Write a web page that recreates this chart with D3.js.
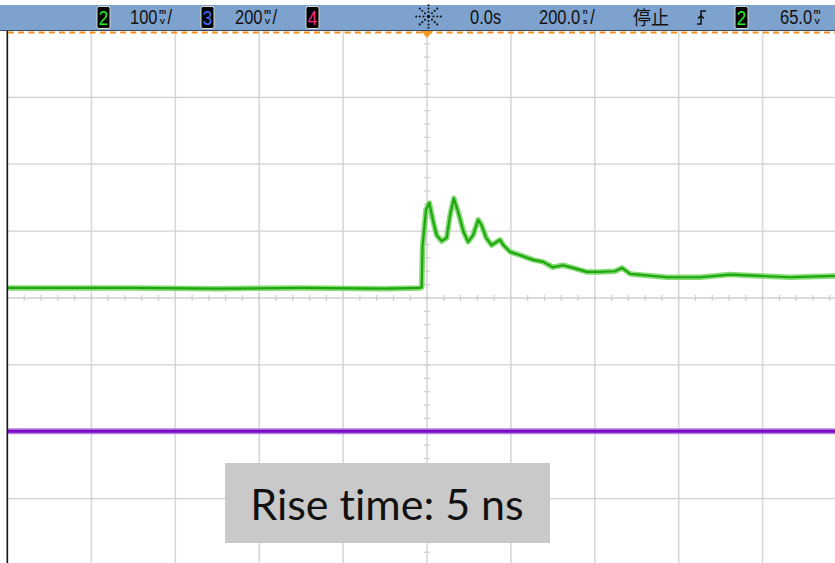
<!DOCTYPE html>
<html><head><meta charset="utf-8">
<script src="https://cdn.jsdelivr.net/npm/d3@7"></script>
<style>html,body{margin:0;padding:0;background:#fff;}svg{display:block;}</style>
</head><body>
<svg id="c" width="835" height="563"></svg>
<script>
// time in ns (200 ns/div), channel values in screen mV (100 mV/div)
const timeTicks = [-1000,-800,-600,-400,-200,0,200,400,600,800,1000];
const levelTicks = [-400,-300,-200,-100,0,100,200,300,400];
const greenT = [-1000,-700,-500,-300,-100,-17,-12.6,-10.7,-2.4,5.5,15,23,35,47,55,64,75,87,98,110,122,130,141,154,174,182,198,222,253,277,300,324,348,381,412,448,465,484,572,651,722,794,865,973];
const greenV = [15,15,14,15,14,15,16,76,132,142,114,94,85,90,124,149,127,99,84,94,117,109,90,79,87,79,69,64,57,54,46,49,45,39,39,40,45,36,31,31,35,33,31,33];
const purpleT = [-1000,-500,0,500,973];
const purpleV = [-199,-199,-199,-199,-199];
const header = [
  {type:"box", label:"2", color:"#22ee22", x:97},
  {type:"text", label:"100", unitTop:"m", unitBot:"V", tail:"/", x:130},
  {type:"box", label:"3", color:"#3f6fff", x:201},
  {type:"text", label:"200", unitTop:"m", unitBot:"V", tail:"/", x:235},
  {type:"box", label:"4", color:"#ff2a8a", x:306},
  {type:"text", label:"0.0s", x:470},
  {type:"text", label:"200.0", unitTop:"n", unitBot:"s", tail:"/", x:539},
  {type:"text", label:"停止", x:633, cjk:true},
  {type:"box", label:"2", color:"#22ee22", x:735},
  {type:"text", label:"65.0", unitTop:"m", unitBot:"V", tail:"", x:780}
];
const annotation = "Rise time: 5 ns";

const svg = d3.select("#c");
const x = d3.scaleLinear().domain([-1000,1000]).range([7.5,846.5]);
const y = d3.scaleLinear().domain([-400,400]).range([565.6,30.4]);

// grid
const g = svg.append("g");
g.selectAll(".vg").data(timeTicks).join("line")
  .attr("x1",d=>x(d)).attr("x2",d=>x(d)).attr("y1",31).attr("y2",563)
  .attr("stroke","#d9d9d9").attr("stroke-width",1.6);
g.selectAll(".hg").data(levelTicks).join("line")
  .attr("x1",7).attr("x2",835).attr("y1",d=>y(d)).attr("y2",d=>y(d))
  .attr("stroke","#d0d0d0").attr("stroke-width",1.3);
const minorT = d3.range(-1000,1001,40);
g.selectAll(".mt").data(minorT).join("line")
  .attr("x1",d=>x(d)).attr("x2",d=>x(d)).attr("y1",y(0)-3).attr("y2",y(0)+3)
  .attr("stroke","#d0d0d0").attr("stroke-width",1.3);
const minorV = d3.range(-400,401,20);
g.selectAll(".mv").data(minorV).join("line")
  .attr("x1",x(0)-3).attr("x2",x(0)+3).attr("y1",d=>y(d)).attr("y2",d=>y(d))
  .attr("stroke","#d0d0d0").attr("stroke-width",1.3);

// traces
const line = d3.line().x(d=>x(d[0])).y(d=>y(d[1]));
const gp = d3.zip(greenT, greenV);
const pp = d3.zip(purpleT, purpleV);
svg.append("path").attr("d",line(pp)).attr("fill","none").attr("stroke","#a765dc").attr("stroke-width",6).attr("opacity",0.8);
svg.append("path").attr("d",line(pp)).attr("fill","none").attr("stroke","#7a0cc6").attr("stroke-width",3);
svg.append("path").attr("d",line(gp)).attr("fill","none").attr("stroke","#6fd35a").attr("stroke-width",5.5).attr("stroke-linejoin","round").attr("opacity",0.85);
svg.append("path").attr("d",line(gp)).attr("fill","none").attr("stroke","#1ea60f").attr("stroke-width",2.2).attr("stroke-linejoin","round");

// left border
svg.append("line").attr("x1",7.3).attr("x2",7.3).attr("y1",31).attr("y2",563).attr("stroke","#1a1a1a").attr("stroke-width",1.6);

// header bar
svg.append("rect").attr("x",0).attr("y",5).attr("width",835).attr("height",25.5).attr("fill","#7ea2ce");
svg.append("line").attr("x1",0).attr("x2",835).attr("y1",30.5).attr("y2",30.5).attr("stroke","#3a4a60").attr("stroke-width",1);
svg.append("line").attr("x1",8).attr("x2",835).attr("y1",32.5).attr("y2",32.5).attr("stroke","#f0901e").attr("stroke-width",2).attr("stroke-dasharray","6,4.2");
svg.append("path").attr("d",`M${x(0)-6},31 L${x(0)+6},31 L${x(0)},38 Z`).attr("fill","#f59a1e");

const hg = svg.append("g").attr("font-family","'Liberation Sans', Arial, sans-serif").attr("fill","#111");
header.forEach(h=>{
  if(h.type==="box"){
    hg.append("rect").attr("x",h.x).attr("y",6.5).attr("width",13).attr("height",22).attr("rx",2)
      .attr("fill","#000").attr("stroke","#d8d8c8").attr("stroke-width",1);
    hg.append("text").attr("transform",`translate(${h.x+6.5},24.5) scale(1,1.15)`).attr("text-anchor","middle")
      .attr("font-size",17).attr("fill",h.color).text(h.label);
  } else {
    const t = hg.append("text").attr("transform",`translate(${h.x},${h.cjk?25:24}) scale(1,${h.cjk?1.05:1.17})`)
      .attr("font-size",h.cjk?18:16.5)
      .attr("font-family",h.cjk?"'Noto Sans CJK SC', sans-serif":null)
      .text(h.label);
    if(h.unitTop){
      const w = t.node().getComputedTextLength();
      const ux = h.x + w + 5;
      hg.append("text").attr("x",ux).attr("y",14).attr("font-size",8).attr("text-anchor","middle").attr("font-weight","bold").text(h.unitTop);
      hg.append("text").attr("x",ux).attr("y",23.5).attr("font-size",8).attr("text-anchor","middle").attr("font-weight","bold").text(h.unitBot);
      if(h.tail) hg.append("text").attr("transform",`translate(${ux+5},24) scale(1,1.17)`).attr("font-size",16.5).text(h.tail);
    }
  }
});
// trigger-position sunburst
const sb = svg.append("g").attr("fill","#111");
const cx = 428.5, cy = 16.5;
sb.append("circle").attr("cx",cx).attr("cy",cy).attr("r",1.8);
d3.range(8).forEach(i=>{
  const a = i*Math.PI/4;
  [4.5,8,11.2].forEach(r=>{
    sb.append("circle").attr("cx",cx+Math.cos(a)*r*1.1).attr("cy",cy+Math.sin(a)*r).attr("r",1.05);
  });
});
// rising-edge trigger symbol
svg.append("path").attr("d","M697,24 H701 V11 H706 M698,18.5 L701,15.5 L704,18.5")
  .attr("fill","none").attr("stroke","#111").attr("stroke-width",1.5);

// annotation box
svg.append("rect").attr("x",225).attr("y",463).attr("width",325).attr("height",80).attr("fill","#c9c9c9");
svg.append("text").attr("x",387).attr("y",520).attr("text-anchor","middle")
  .style("font-variant-ligatures","none")
  .attr("font-family","Lato, 'Open Sans', sans-serif").attr("font-size",43).attr("fill","#111").text(annotation);
</script>
</body></html>
